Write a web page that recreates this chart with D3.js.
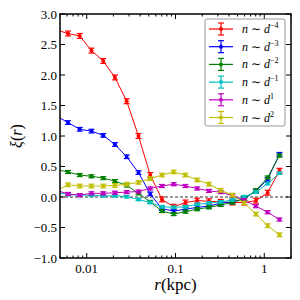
<!DOCTYPE html>
<html>
<head>
<meta charset="utf-8">
<script src="https://cdn.jsdelivr.net/npm/d3@7"></script>
<style>
  body { margin: 0; background: #fff; }
  svg text { font-family: "Liberation Serif", "DejaVu Serif", serif; }
</style>
</head>
<body>
<svg id="chart" width="300" height="300"></svg>
<script>
// bin centres (kpc); first one sits just outside the left edge
const radii = [0.00454, 0.00615, 0.00834, 0.0113, 0.01534, 0.0208, 0.0282, 0.0383, 0.0519, 0.0704,
  0.0954, 0.1294, 0.1754, 0.238, 0.323, 0.438, 0.594, 0.805, 1.092, 1.482];

const xiM4 = [2.74, 2.68, 2.64, 2.40, 2.23, 1.96, 1.57, 1.00, 0.36, -0.04, -0.16, -0.09, -0.06, -0.07, -0.08, -0.09, -0.09, -0.06, 0.07, 0.43];
const xiM3 = [1.33, 1.22, 1.11, 1.08, 1.01, 0.86, 0.66, 0.40, 0.05, -0.19, -0.23, -0.20, -0.17, -0.15, -0.10, -0.08, -0.03, 0.10, 0.29, 0.70];
const xiM2 = [0.45, 0.41, 0.36, 0.34, 0.31, 0.26, 0.19, 0.06, -0.08, -0.23, -0.28, -0.24, -0.20, -0.17, -0.13, -0.09, -0.03, 0.11, 0.32, 0.68];
const xiM1 = [0.08, 0.04, 0.03, 0.03, 0.02, 0.02, 0.005, -0.04, -0.09, -0.16, -0.17, -0.16, -0.12, -0.10, -0.08, -0.05, 0.005, 0.08, 0.22, 0.39];
const xiP1 = [0.11, 0.05, 0.03, 0.06, 0.06, 0.07, 0.08, 0.09, 0.14, 0.18, 0.21, 0.18, 0.14, 0.10, 0.08, 0.02, -0.05, -0.15, -0.25, -0.37];
const xiP2 = [0.10, 0.20, 0.18, 0.18, 0.18, 0.19, 0.21, 0.24, 0.30, 0.36, 0.41, 0.36, 0.28, 0.21, 0.11, 0.03, -0.10, -0.28, -0.47, -0.62];

const seriesErr = [0.04, 0.03, 0.025, 0.02, 0.025, 0.03];
const seriesColors = ["#ff0000", "#0000ff", "#008000", "#00bfbf", "#bf00bf", "#bfbf00"];
const seriesExp = ["\u22124", "\u22123", "\u22122", "\u22121", "1", "2"];

const yTicks = [-1.0, -0.5, 0.0, 0.5, 1.0, 1.5, 2.0, 2.5, 3.0];
const xTicks = [0.01, 0.1, 1];
const xTickLabels = ["0.01", "0.1", "1"];

const series = [xiM4, xiM3, xiM2, xiM1, xiP1, xiP2].map((vals, i) => ({
  vals: vals, err: seriesErr[i], color: seriesColors[i], exp: seriesExp[i]
}));

const mLeft = 60, mRight = 291, mTop = 14, mBottom = 258;
const svg = d3.select("#chart");

const x = d3.scaleLog().domain([0.005, 2]).range([mLeft, mRight]);
const y = d3.scaleLinear().domain([-1, 3]).range([mBottom, mTop]);

svg.append("defs").append("clipPath").attr("id", "plotclip")
  .append("rect").attr("x", mLeft).attr("y", mTop).attr("width", mRight - mLeft).attr("height", mBottom - mTop);

const plot = svg.append("g").attr("clip-path", "url(#plotclip)");

// zero line
plot.append("line")
  .attr("x1", mLeft).attr("x2", mRight).attr("y1", y(0)).attr("y2", y(0))
  .attr("stroke", "#777").attr("stroke-width", 1.5).attr("stroke-dasharray", "3,2");

const line = d3.line().x((d, i) => x(radii[i])).y(d => y(d));

series.forEach(s => {
  const g = plot.append("g");
  g.append("path").datum(s.vals).attr("d", line)
    .attr("fill", "none").attr("stroke", s.color).attr("stroke-width", 1);
  const pts = g.selectAll("g.pt").data(s.vals).enter().append("g");
  pts.append("line")
    .attr("x1", (d, i) => x(radii[i])).attr("x2", (d, i) => x(radii[i]))
    .attr("y1", d => y(d - s.err)).attr("y2", d => y(d + s.err))
    .attr("stroke", s.color).attr("stroke-width", 1.5);
  [-1, 1].forEach(sg => {
    pts.append("line")
      .attr("x1", (d, i) => x(radii[i]) - 3).attr("x2", (d, i) => x(radii[i]) + 3)
      .attr("y1", d => y(d + sg * s.err)).attr("y2", d => y(d + sg * s.err))
      .attr("stroke", s.color).attr("stroke-width", 1.2);
  });
  pts.append("circle")
    .attr("cx", (d, i) => x(radii[i])).attr("cy", d => y(d)).attr("r", 2)
    .attr("fill", s.color);
});

// axes, matplotlib style with inward ticks on all sides
const minorX = [];
[0.001, 0.01, 0.1, 1].forEach(dec => {
  for (let k = 2; k <= 9; k++) {
    const v = dec * k;
    if (v >= 0.005 && v <= 2) minorX.push(v);
  }
});

const axisG = svg.append("g");
const tickLine = (x1, y1, x2, y2) => axisG.append("line")
  .attr("x1", x1).attr("y1", y1).attr("x2", x2).attr("y2", y2)
  .attr("stroke", "#000").attr("stroke-width", 1);

xTicks.forEach(v => { tickLine(x(v), mBottom, x(v), mBottom - 5); tickLine(x(v), mTop, x(v), mTop + 5); });
minorX.forEach(v => { tickLine(x(v), mBottom, x(v), mBottom - 2.5); tickLine(x(v), mTop, x(v), mTop + 2.5); });
yTicks.forEach(v => { tickLine(mLeft, y(v), mLeft + 5, y(v)); tickLine(mRight, y(v), mRight - 5, y(v)); });

axisG.append("rect")
  .attr("x", mLeft).attr("y", mTop).attr("width", mRight - mLeft).attr("height", mBottom - mTop)
  .attr("fill", "none").attr("stroke", "#000").attr("stroke-width", 1.5);

axisG.selectAll("text.yt").data(yTicks).enter().append("text")
  .attr("x", mLeft - 3).attr("y", d => y(d) + 4.5)
  .attr("text-anchor", "end").attr("font-size", 13)
  .text(d => d3.format(".1f")(d).replace("-", "\u2212"));

axisG.selectAll("text.xt").data(xTicks).enter().append("text")
  .attr("x", d => x(d)).attr("y", mBottom + 15)
  .attr("text-anchor", "middle").attr("font-size", 13)
  .text((d, i) => xTickLabels[i]);

// axis labels
const xl = svg.append("text").attr("x", x(0.1)).attr("y", 290)
  .attr("text-anchor", "middle").attr("font-size", 17);
xl.append("tspan").attr("font-style", "italic").text("r");
xl.append("tspan").text("(kpc)");

const yl = svg.append("text").attr("transform", "translate(22," + ((mTop + mBottom) / 2) + ") rotate(-90)")
  .attr("text-anchor", "middle").attr("font-size", 16);
yl.append("tspan").attr("font-style", "italic").text("\u03be");
yl.append("tspan").text("(");
yl.append("tspan").attr("font-style", "italic").text("r");
yl.append("tspan").text(")");

// legend
const lg = svg.append("g");
lg.append("rect").attr("x", 205).attr("y", 19).attr("width", 80).attr("height", 107)
  .attr("rx", 2).attr("fill", "#fff").attr("stroke", "#999").attr("stroke-width", 1);
series.forEach((s, i) => {
  const cy = 29 + i * 17.7;
  const row = lg.append("g");
  row.append("line").attr("x1", 209).attr("x2", 233).attr("y1", cy).attr("y2", cy)
    .attr("stroke", s.color).attr("stroke-width", 1.2);
  row.append("line").attr("x1", 221).attr("x2", 221).attr("y1", cy - 6).attr("y2", cy + 6)
    .attr("stroke", s.color).attr("stroke-width", 1.2);
  [-6, 6].forEach(o => row.append("line").attr("x1", 218).attr("x2", 224)
    .attr("y1", cy + o).attr("y2", cy + o).attr("stroke", s.color).attr("stroke-width", 1.2));
  row.append("circle").attr("cx", 221).attr("cy", cy).attr("r", 2).attr("fill", s.color);
  const t = row.append("text").attr("x", 242).attr("y", cy + 4).attr("font-size", 12);
  t.append("tspan").attr("font-style", "italic").text("n");
  t.append("tspan").text(" \u223c ");
  t.append("tspan").attr("font-style", "italic").text("d");
  t.append("tspan").attr("font-size", 8).attr("dy", -5).text(s.exp);
});
</script>
</body>
</html>
